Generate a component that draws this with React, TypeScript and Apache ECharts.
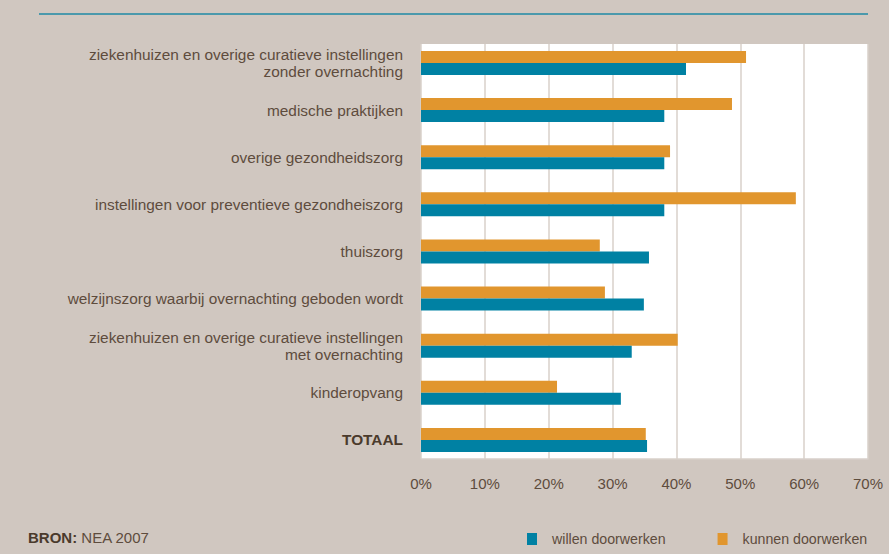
import React, { useEffect, useRef } from "react";
import * as echarts from "echarts";

const categories = [
  "ziekenhuizen en overige curatieve instellingen\nzonder overnachting",
  "medische praktijken",
  "overige gezondheidszorg",
  "instellingen voor preventieve gezondheiszorg",
  "thuiszorg",
  "welzijnszorg waarbij overnachting geboden wordt",
  "ziekenhuizen en overige curatieve instellingen\nmet overnachting",
  "kinderopvang",
  "TOTAAL",
];
const kunnenDoorwerken = [50.9, 48.7, 39.0, 58.7, 28.0, 28.8, 40.2, 21.3, 35.2];
const willenDoorwerken = [41.5, 38.1, 38.1, 38.1, 35.7, 34.9, 33.0, 31.3, 35.4];
const xTicks = [0, 10, 20, 30, 40, 50, 60, 70];

const BG = "#d0c7c0";
const TEXT = "#5e4c3d";
const ORANGE = "#e1962e";
const TEAL = "#0081a3";
const FONT = "'Liberation Sans Narrow', 'Liberation Sans', Arial, sans-serif";

export default function App() {
  const ref = useRef<HTMLDivElement>(null);
  useEffect(() => {
    document.body.style.margin = "0";
    const chart = echarts.init(ref.current!, null, { renderer: "svg" });
    chart.setOption({
      animation: false,
      backgroundColor: BG,
      textStyle: { fontFamily: FONT },
      grid: [
        { left: 421, top: 39.4, width: 447, height: 424.1, containLabel: false },
        { left: 421, top: 44, width: 447, height: 415, show: true, backgroundColor: "#ffffff", borderWidth: 0, z: 0 },
      ],
      xAxis: [
        { type: "value", gridIndex: 0, min: 0, max: 70, interval: 10, show: false },
        {
          type: "value",
          gridIndex: 1,
          min: xTicks[0],
          max: xTicks[xTicks.length - 1],
          interval: 10,
          axisLine: { show: true, lineStyle: { color: "#d8d0ca", width: 1.5 } },
          axisTick: { show: false },
          splitLine: { show: true, lineStyle: { color: "#d8d0ca", width: 1.5 } },
          axisLabel: { formatter: "{value}%", color: TEXT, fontSize: 15, margin: 17, fontFamily: FONT },
        },
      ],
      yAxis: [
        {
          type: "category",
          gridIndex: 0,
          data: categories,
          inverse: true,
          axisLine: { show: false },
          axisTick: { show: false },
          axisLabel: {
            color: TEXT,
            fontSize: 15.4,
            lineHeight: 17,
            margin: 18,
            fontFamily: FONT,
            formatter: (v: string) => (v === "TOTAAL" ? "{b|" + v + "}" : v),
            rich: { b: { fontWeight: "bold", color: "#4a3a2c", fontSize: 15.4, fontFamily: FONT } },
          },
        },
        { type: "value", gridIndex: 1, show: false },
      ],
      legend: {
        left: 527,
        top: 532,
        width: 362,
        padding: 0,
        orient: "horizontal",
        itemWidth: 10,
        itemHeight: 12,
        itemGap: 52,
        icon: "rect",
        data: ["willen doorwerken", "kunnen doorwerken"],
        textStyle: { color: TEXT, fontSize: 14.2, fontFamily: FONT, padding: [0, 0, 0, 10] },
      },
      graphic: [
        { type: "line", shape: { x1: 39, y1: 14, x2: 868, y2: 14 }, style: { stroke: "#1f8aa6", lineWidth: 1.5 } },
        {
          type: "text",
          left: 28,
          top: 530,
          style: {
            text: "{b|BRON:} NEA 2007",
            fill: TEXT,
            fontSize: 15,
            fontFamily: FONT,
            rich: { b: { fontWeight: "bold", fontSize: 15, fill: "#4a3a2c", fontFamily: FONT } },
          },
        },
      ],
      series: [
        {
          name: "kunnen doorwerken",
          type: "bar",
          xAxisIndex: 0,
          yAxisIndex: 0,
          data: kunnenDoorwerken,
          barWidth: 12,
          barGap: "0%",
          itemStyle: { color: ORANGE },
          z: 3,
        },
        {
          name: "willen doorwerken",
          type: "bar",
          xAxisIndex: 0,
          yAxisIndex: 0,
          data: willenDoorwerken,
          barWidth: 12,
          barGap: "0%",
          itemStyle: { color: TEAL },
          z: 3,
        },
      ],
    });
    return () => chart.dispose();
  }, []);
  return <div ref={ref} style={{ position: "fixed", left: 0, top: 0, width: 889, height: 554 }} />;
}
